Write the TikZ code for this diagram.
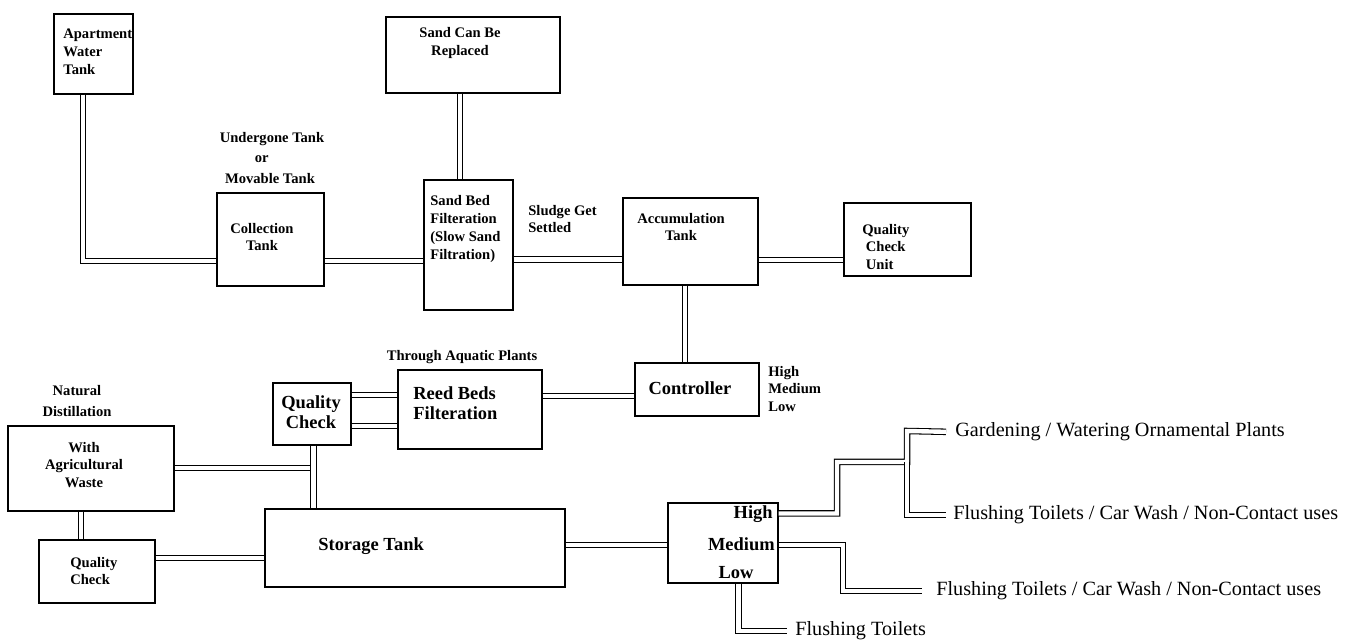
\documentclass[tikz,border=0pt]{standalone}
\usepackage{fontspec}
\setmainfont{Liberation Serif}

\begin{document}
\begin{tikzpicture}[
    x=0.02cm, y=-0.02cm,
    box/.style={rectangle, draw, line width=0.7pt, inner sep=0pt},
    pipe/.style={double, double distance=2.5pt, line width=0.6pt},
    note/.style={font=\bfseries\fontsize{8.3}{10.2}\selectfont, inner sep=0pt, align=left},
    tag/.style={font=\bfseries\fontsize{8.3}{11.6}\selectfont, inner sep=0pt, align=center},
    head/.style={font=\bfseries\fontsize{10.5}{11.4}\selectfont, inner sep=0pt, align=left},
    use/.style={font=\fontsize{11.5}{13}\selectfont, inner sep=0pt, anchor=west}
]
\useasboundingbox (0,0) rectangle (1363,641);

% Boxes
\node[box, minimum width=1.58cm, minimum height=1.6cm]  (apt)     at (93.5,54)   {};
\node[box, minimum width=3.48cm, minimum height=1.52cm] (sandrep) at (473,55)    {};
\node[box, minimum width=2.14cm, minimum height=1.86cm] (coll)    at (270.5,239.5) {};
\node[box, minimum width=1.78cm, minimum height=2.6cm]  (sandbed) at (468.5,245) {};
\node[box, minimum width=2.7cm,  minimum height=1.74cm] (accum)   at (690.5,241.5) {};
\node[box, minimum width=2.54cm, minimum height=1.46cm] (qcu)     at (907.5,239.5) {};
\node[box, minimum width=2.48cm, minimum height=1.06cm] (ctrl)    at (697,389.5) {};
\node[box, minimum width=2.88cm, minimum height=1.58cm] (reed)    at (470,409.5) {};
\node[box, minimum width=1.56cm, minimum height=1.24cm] (qcmid)   at (312,414)   {};
\node[box, minimum width=3.32cm, minimum height=1.7cm]  (waste)   at (91,468.5)  {};
\node[box, minimum width=2.32cm, minimum height=1.26cm] (qcbot)   at (97,571.5)  {};
\node[box, minimum width=6cm,    minimum height=1.56cm] (store)   at (415,548)   {};
\node[box, minimum width=2.2cm,  minimum height=1.6cm]  (dist)    at (723,543)   {};

% Texts in and around the boxes
\node[note, anchor=west] (apttxt) at (63,52) {Apartment\\Water\\Tank};
\node[tag, align=left] (colltag) at (272,158) {Undergone Tank\\\hspace*{20pt}or\\\hspace*{3pt}Movable Tank};
\node[note, align=center] (colltxt) at (262,237) {Collection\\Tank};
\node[note, align=center] (sandreptxt) at (460,43) {Sand Can Be\\Replaced};
\node[note, anchor=west] (sandbedtxt) at (430,229) {Sand Bed\\Filteration\\(Slow Sand\\Filtration)};
\node[note, anchor=west] (sludge) at (528,219) {Sludge Get\\Settled};
\node[note, align=center] (accumtxt) at (681,227) {Accumulation\\Tank};
\node[note, anchor=west] (qcutxt) at (862,247) {Quality\\\hspace*{2pt}Check\\\hspace*{2pt}Unit};
\node[head] (ctrltxt) at (690,388) {Controller};
\node[note, anchor=west] (levels) at (768,389) {High\\Medium\\Low};
\node[note] (aquatic) at (462,357) {Through Aquatic Plants};
\node[head, anchor=west] (reedtxt) at (413,403) {Reed Beds\\Filteration};
\node[head, align=center] (qcmidtxt) at (311,412) {Quality\\Check};
\node[tag] (natural) at (77,401) {Natural\\Distillation};
\node[note, align=center] (wastetxt) at (84,465) {With\\Agricultural\\Waste};
\node[note, anchor=west] (qcbottxt) at (70,571) {Quality\\Check};
\node[head, anchor=west] (storetxt) at (318,546) {Storage Tank};
\node[head, anchor=east] (high) at (773,514) {High};
\node[head, anchor=east] (medium) at (775,544) {Medium};
\node[head] (low) at (736,573) {Low};

% Uses
\node[use] (garden) at (955,432) {Gardening / Watering Ornamental Plants};
\node[use] (flushA) at (953,515) {Flushing Toilets / Car Wash / Non-Contact uses};
\node[use] (flushB) at (936,591) {Flushing Toilets / Car Wash / Non-Contact uses};
\node[use] (flushC) at (795,631) {Flushing Toilets};

% Pipes
\draw[pipe] (apt.south -| 83,0) |- (coll.west |- 0,261);
\draw[pipe] (coll.east |- 0,261) -- (sandbed.west |- 0,261);
\draw[pipe] (sandrep.south -| 460,0) -- (sandbed.north -| 460,0);
\draw[pipe] (sandbed.east |- 0,259.5) -- (accum.west |- 0,259.5);
\draw[pipe] (accum.east |- 0,260) -- (qcu.west |- 0,260);
\draw[pipe] (accum.south -| 685,0) -- (ctrl.north -| 685,0);
\draw[pipe] (reed.east |- 0,396) -- (ctrl.west |- 0,396);
\draw[pipe] (qcmid.east |- 0,395) -- (reed.west |- 0,395);
\draw[pipe] (qcmid.east |- 0,426) -- (reed.west |- 0,426);
\coordinate (jn) at (313.5,468);
\draw[pipe] (waste.east |- jn) -- (jn);
\draw[pipe] (qcmid.south -| jn) -- (store.north -| jn);
\draw[pipe] (waste.south -| 81,0) -- (qcbot.north -| 81,0);
\draw[pipe] (qcbot.east |- 0,558) -- (store.west |- 0,558);
\draw[pipe] (store.east |- 0,545) -- (dist.west |- 0,545);
\coordinate (split) at (907,462);
\draw[pipe, shorten >=0.18cm] (dist.east |- 0,513.5) -| (837,462) -| (907,431) -- (garden.west);
\draw[pipe, shorten >=0.14cm] (split) |- (flushA.west);
\draw[pipe, shorten >=0.28cm] (dist.east |- 0,545) -| (843,591) -- (flushB.west);
\draw[pipe, shorten >=0.16cm] (dist.south -| 738.5,0) |- (flushC.west);
\end{tikzpicture}
\end{document}
